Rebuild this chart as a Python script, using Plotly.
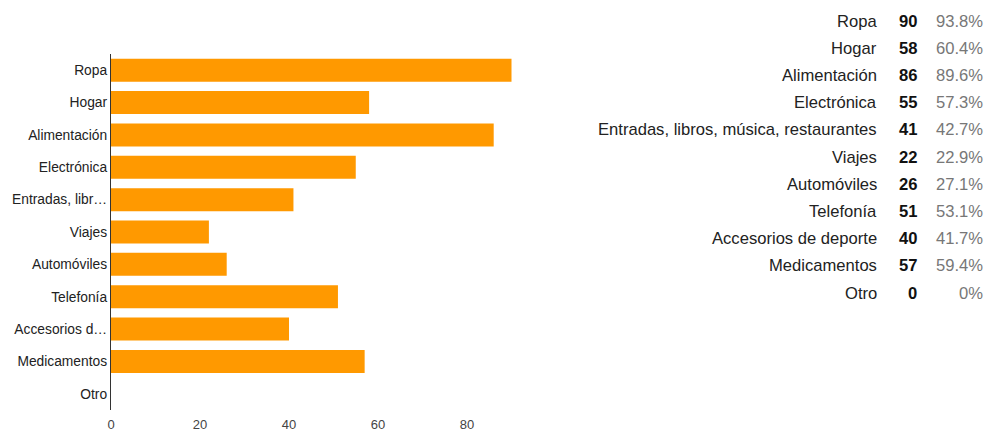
import plotly.graph_objects as go

# Survey responses: which product categories people buy
categories = ["Ropa", "Hogar", "Alimentación", "Electrónica",
              "Entradas, libros, música, restaurantes", "Viajes", "Automóviles",
              "Telefonía", "Accesorios de deporte", "Medicamentos", "Otro"]
tick_labels = ["Ropa", "Hogar", "Alimentación", "Electrónica", "Entradas, libr…",
               "Viajes", "Automóviles", "Telefonía", "Accesorios d…",
               "Medicamentos", "Otro"]
counts = [90, 58, 86, 55, 41, 22, 26, 51, 40, 57, 0]
percents = ["93.8%", "60.4%", "89.6%", "57.3%", "42.7%", "22.9%",
            "27.1%", "53.1%", "41.7%", "59.4%", "0%"]
x_ticks = [0, 20, 40, 60, 80]

W, H = 988, 430
FONT = "Liberation Sans, Arial, sans-serif"

fig = go.Figure(go.Bar(
    y=categories,
    x=counts,
    orientation="h",
    marker=dict(color="#FF9900", line=dict(width=0)),
    hoverinfo="x+y",
))

fig.update_layout(
    width=W, height=H,
    margin=dict(l=0, r=0, t=0, b=0),
    paper_bgcolor="white", plot_bgcolor="white",
    bargap=0.29,
    showlegend=False,
    font=dict(family=FONT),
    xaxis=dict(
        domain=[111 / W, 556 / W],
        range=[0, 100],
        tickvals=x_ticks,
        ticktext=[str(v) for v in x_ticks],
        showgrid=False, zeroline=False, showline=False,
        ticks="", automargin=False, ticklabelstandoff=5,
        tickfont=dict(size=13, color="#444"),
    ),
    yaxis=dict(
        domain=[1 - 410 / H, 1 - 54 / H],
        categoryorder="array",
        categoryarray=categories[::-1],
        tickvals=categories,
        ticktext=tick_labels,
        showgrid=False, zeroline=False,
        showline=True, linecolor="#333", linewidth=1.2,
        ticks="", automargin=False,
        tickfont=dict(size=13.8, color="#222"),
    ),
)

# Summary table on the right: label, count, percentage
row_top, row_step = 21, 27.2
for i, (name, n, pct) in enumerate(zip(categories, counts, percents)):
    yy = 1 - (row_top + i * row_step) / H
    fig.add_annotation(x=879 / W, y=yy, xref="paper", yref="paper",
                       text=name, showarrow=False, xanchor="right", yanchor="middle",
                       font=dict(family=FONT, size=16.6, color="#222"))
    fig.add_annotation(x=919 / W, y=yy, xref="paper", yref="paper",
                       text=f"<b>{n}</b>", showarrow=False, xanchor="right", yanchor="middle",
                       font=dict(family=FONT, size=16.6, color="#111"))
    fig.add_annotation(x=985 / W, y=yy, xref="paper", yref="paper",
                       text=pct, showarrow=False, xanchor="right", yanchor="middle",
                       font=dict(family=FONT, size=16.6, color="#777"))

fig.write_html("out.html")
